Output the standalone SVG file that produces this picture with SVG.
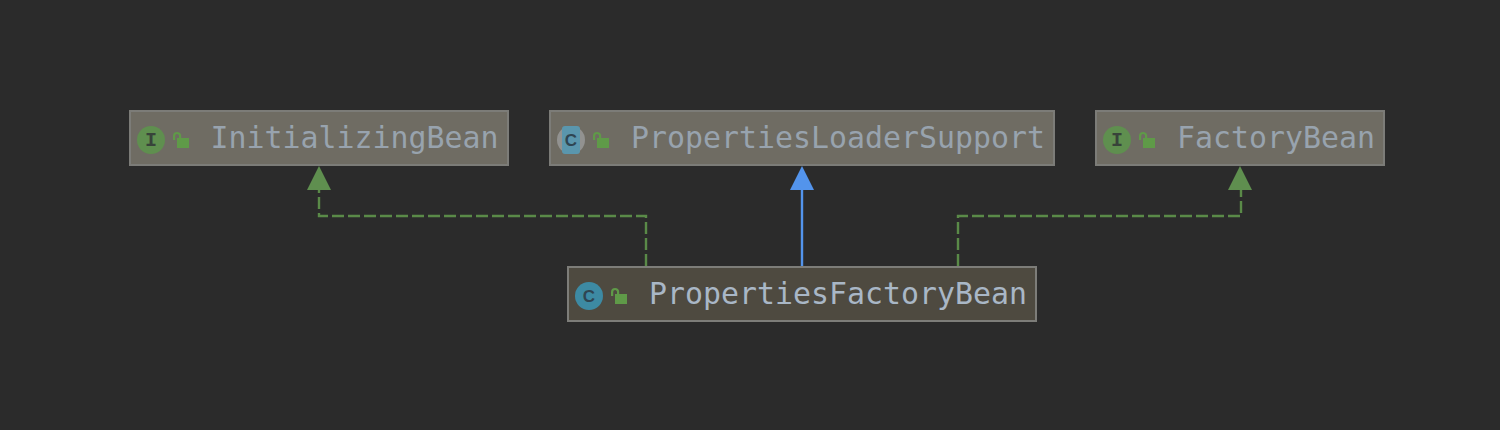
<svg xmlns="http://www.w3.org/2000/svg" width="1500" height="430" viewBox="0 0 1500 430">
<style>
.box{fill:#6f6c63;stroke:#7c7c78;stroke-width:2}
.own{fill:#4e4a40;stroke:#7d7d79;stroke-width:2}
.t{font-family:"DejaVu Sans Mono",monospace;font-size:29.9px;fill:#98a3ae}
.o{fill:#a9b7c6}
.i{fill:#5f8f4f}
.c{fill:#3d8aa3}
.g{font-family:"Liberation Mono",monospace;font-size:20px;font-weight:bold;fill:#38433a;text-anchor:middle}
.cg{font-family:"Liberation Sans",sans-serif;font-size:17px;font-weight:bold;fill:#2f4552;text-anchor:middle}
.lk{fill:#5f9a48}
.sh{fill:none;stroke:#5f9a48;stroke-width:2.2}
.d{fill:none;stroke:#5a8a48;stroke-width:2.4;stroke-dasharray:12 4}
.s{fill:none;stroke:#5394ec;stroke-width:2.4}
</style>
<defs>
<g id="lock"><rect x="4" y="6" width="12" height="10" class="lk"/><path d="M1.1 8V4a3 3 0 0 1 6 0V6" class="sh"/></g>
</defs>
<rect width="1500" height="430" fill="#2b2b2b"/>
<g id="connectors">
<path class="d" d="M646 266V216H319V190"/>
<path class="d" d="M958 266V216H1241V190"/>
<path class="s" d="M802 266V188"/>
<polygon points="319,166 331,190 307,190" fill="#5f8f4f"/>
<polygon points="802,166 814,190 790,190" fill="#5394ec"/>
<polygon points="1240,166 1252,190 1228,190" fill="#5f8f4f"/>
</g>
<g id="InitializingBean">
<rect class="box" x="130" y="111" width="378" height="54"/>
<circle class="i" cx="151" cy="140" r="14"/>
<text class="g" x="151" y="146">I</text>
<use href="#lock" x="173" y="132"/>
<text class="t" x="210.500" y="148">InitializingBean</text>
</g>
<g id="PropertiesLoaderSupport">
<rect class="box" x="550" y="111" width="504" height="54"/>
<circle cx="571" cy="140" r="14" fill="#929290"/>
<rect x="562" y="126" width="18" height="28" rx="3" fill="#5a96ad"/>
<text class="cg" x="571" y="146">C</text>
<use href="#lock" x="593" y="132"/>
<text class="t" x="631" y="148">PropertiesLoaderSupport</text>
</g>
<g id="FactoryBean">
<rect class="box" x="1096" y="111" width="288" height="54"/>
<circle class="i" cx="1117" cy="140" r="14"/>
<text class="g" x="1117" y="146">I</text>
<use href="#lock" x="1139" y="132"/>
<text class="t" x="1177" y="148">FactoryBean</text>
</g>
<g id="PropertiesFactoryBean">
<rect class="own" x="568" y="267" width="468" height="54"/>
<circle class="c" cx="589" cy="296" r="14"/>
<text class="cg" x="589" y="302">C</text>
<use href="#lock" x="611" y="288"/>
<text class="t o" x="649" y="304">PropertiesFactoryBean</text>
</g>
</svg>
